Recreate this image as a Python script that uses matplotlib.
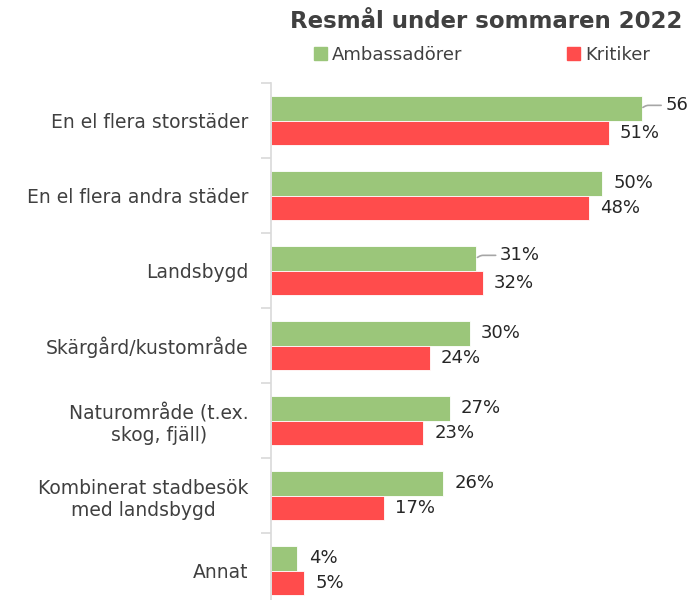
import matplotlib.pyplot as plt
from matplotlib.patches import Patch

# --- data ---
categories = [
    "En el flera storstäder",
    "En el flera andra städer",
    "Landsbygd",
    "Skärgård/kustområde",
    "Naturområde (t.ex.\nskog, fjäll)",
    "Kombinerat stadbesök\nmed landsbygd",
    "Annat",
]
ambassadorer = [56, 50, 31, 30, 27, 26, 4]
kritiker = [51, 48, 32, 24, 23, 17, 5]
series_names = ["Ambassadörer", "Kritiker"]

green = "#9BC67A"
red = "#FF4C4C"
text_col = "#262626"
grey = "#404040"

fig = plt.figure(figsize=(6.87, 6.0), dpi=100)
# axes runs a little past the bottom edge, like the original crop
ax = fig.add_axes([271 / 687, -8 / 600, 416 / 687, 525 / 600])

bar_h = 0.33
pos = list(range(len(categories)))
ax.barh([p - bar_h / 2 for p in pos], ambassadorer, height=bar_h,
        color=green, edgecolor="white", linewidth=0.6)
ax.barh([p + bar_h / 2 for p in pos], kritiker, height=bar_h,
        color=red, edgecolor="white", linewidth=0.6)

ax.set_xlim(0, 416 / 6.62)
ax.set_ylim(len(categories) - 0.5, -0.5)

# value labels
def put_label(val, y, txt, leader=False):
    if leader:
        ax.annotate(txt, xy=(val, y), xytext=(17, 2), textcoords="offset points",
                    va="center", ha="left", fontsize=13, color=text_col,
                    arrowprops=dict(arrowstyle="-", color="#A6A6A6", lw=1.2,
                                    shrinkA=1, shrinkB=1,
                                    connectionstyle="angle,angleA=0,angleB=30,rad=2"))
    else:
        ax.annotate(txt, xy=(val, y), xytext=(8, 0), textcoords="offset points",
                    va="center", ha="left", fontsize=13, color=text_col)

for i, (a, k) in enumerate(zip(ambassadorer, kritiker)):
    lead = i in (0, 2)
    # the top label runs into the right edge in the original, only "56" shows
    a_txt = f"{a}" if i == 0 else f"{a}%"
    put_label(a, i - bar_h / 2, a_txt, leader=lead)
    put_label(k, i + bar_h / 2, f"{k}%")

# axis styling: only the left spine with ticks between categories
for s in ["top", "right", "bottom"]:
    ax.spines[s].set_visible(False)
ax.spines["left"].set_color("#D9D9D9")
ax.spines["left"].set_linewidth(1.2)
ax.set_xticks([])
ax.set_yticks([p - 0.5 for p in range(len(categories) + 1)], minor=False)
ax.set_yticklabels([])
ax.tick_params(axis="y", which="major", length=7, color="#D9D9D9", width=1.2)
ax.set_yticks(pos, minor=True)
ax.set_yticklabels(categories, minor=True, fontsize=13.5, color=grey,
                   ha="right", multialignment="center")
ax.tick_params(axis="y", which="minor", length=0, pad=16)

# title and legend
fig.text(486 / 687, 1 - 22 / 600, "Resmål under sommaren 2022", ha="center",
         va="center", fontsize=16.5, fontweight="bold", color=grey)
handles = [Patch(color=green), Patch(color=red)]
fig.legend(handles, series_names, loc="center", ncol=2, frameon=False,
           bbox_to_anchor=(482 / 687, 1 - 55 / 600), fontsize=13,
           handlelength=0.7, handleheight=0.7, handletextpad=0.3,
           columnspacing=5.8, labelcolor=grey)

fig.savefig("out.png", dpi=100)
